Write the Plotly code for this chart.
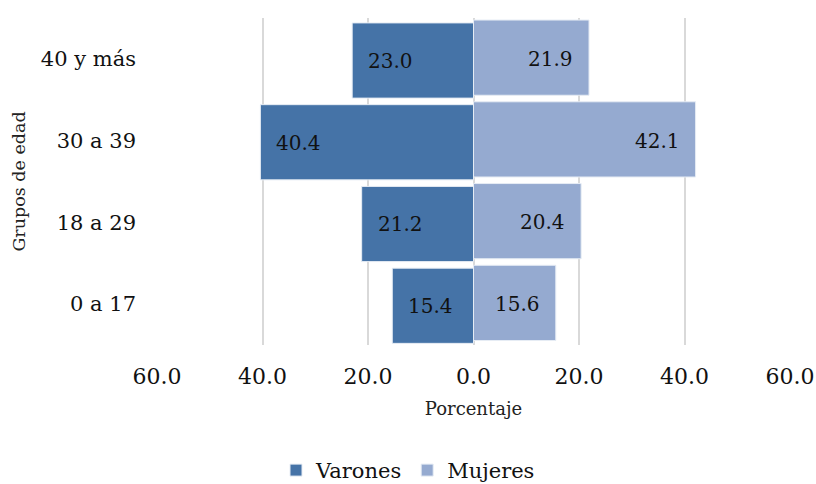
import plotly.graph_objects as go

# Age groups (bottom to top) and percentages by sex
grupos = ["0 a 17", "18 a 29", "30 a 39", "40 y más"]
varones = [15.4, 21.2, 40.4, 23.0]
mujeres = [15.6, 20.4, 42.1, 21.9]
ticks = [-60, -40, -20, 0, 20, 40, 60]

FONT = "Georgia, 'DejaVu Serif', serif"
C_VAR = "#4573A7"
C_MUJ = "#95AAD0"

fig = go.Figure()
fig.add_trace(go.Bar(
    y=grupos, x=[-v for v in varones], orientation="h", name="Varones",
    marker=dict(color=C_VAR, line=dict(color="#E6ECF4", width=1)),
    width=0.92, offset=-0.48,
))
fig.add_trace(go.Bar(
    y=grupos, x=mujeres, orientation="h", name="Mujeres",
    marker=dict(color=C_MUJ, line=dict(color="#E6ECF4", width=1)),
    width=0.92, offset=-0.445,
))

# value labels near the outer end of each bar
for g, v in zip(grupos, varones):
    fig.add_annotation(x=-v, y=g, text=f"{v:.1f}", showarrow=False,
                       xanchor="left", xshift=14, yshift=-2,
                       font=dict(family=FONT, size=20, color="#111"))
for g, v in zip(grupos, mujeres):
    fig.add_annotation(x=v, y=g, text=f"{v:.1f}", showarrow=False,
                       xanchor="right", xshift=-14, yshift=0,
                       font=dict(family=FONT, size=20, color="#111"))

fig.update_layout(
    width=816, height=484,
    margin=dict(l=157, r=26, t=18, b=139),
    plot_bgcolor="white", paper_bgcolor="white",
    barmode="overlay",
    font=dict(family=FONT, size=18, color="#222"),
    showlegend=True,
    legend=dict(orientation="h", x=0.5, xanchor="center", xref="container",
                y=0.028, yanchor="middle", yref="container",
                font=dict(family=FONT, size=21, color="#111"),
                itemwidth=30, traceorder="normal"),
)
fig.update_xaxes(
    range=[-60, 60], tickvals=ticks, ticktext=[f"{abs(t):.1f}" for t in ticks],
    showgrid=True, gridcolor="#D9D9D9", gridwidth=2,
    zeroline=False, showline=False, ticks="", ticklabelstandoff=16,
    automargin=False,
    tickfont=dict(family=FONT, size=22, color="#111"),
    title=dict(text="Porcentaje", font=dict(family=FONT, size=18, color="#222"), standoff=14),
)
fig.update_yaxes(
    categoryorder="array", categoryarray=grupos,
    showgrid=False, zeroline=False, showline=False, ticks="",
    ticklabelstandoff=20, automargin=False,
    tickfont=dict(family=FONT, size=21, color="#111"),
    title=dict(text="Grupos de edad", font=dict(family=FONT, size=17.5, color="#222"), standoff=10),
)

fig.write_html("out.html")
